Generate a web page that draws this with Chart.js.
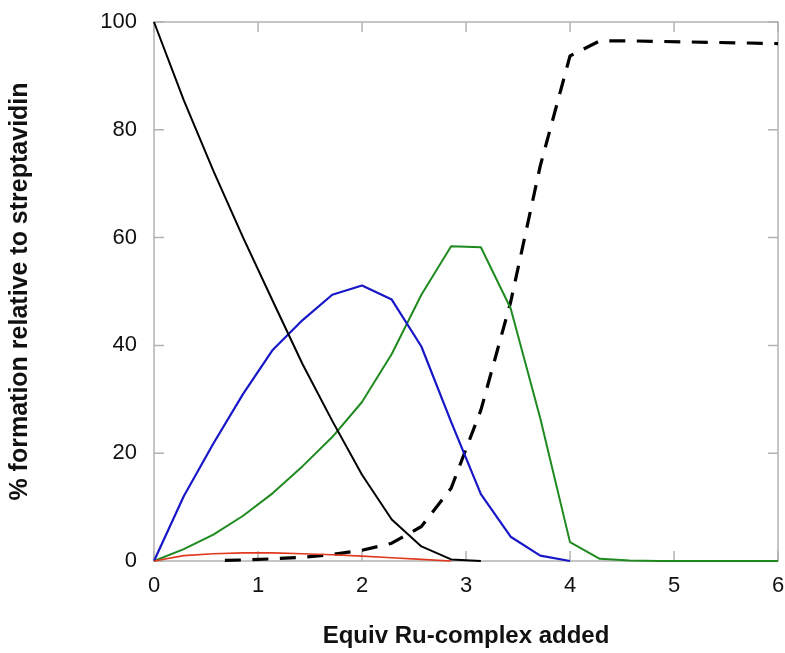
<!DOCTYPE html>
<html>
<head>
<meta charset="utf-8">
<script src="https://cdn.jsdelivr.net/npm/chart.js@4.4.1/dist/chart.umd.min.js"></script>
<style>
  html, body { margin: 0; padding: 0; background: #ffffff; }
  #wrap { width: 785px; height: 653px; position: relative; }
</style>
</head>
<body>
<div id="wrap"><canvas id="c" width="785" height="653"></canvas></div>
<script>
// ---- data ----
const equiv = [0, 0.286, 0.571, 0.857, 1.143, 1.429, 1.714, 2, 2.286, 2.571, 2.857,
               3.143, 3.429, 3.714, 4, 4.286, 4.571, 4.857, 5.143, 5.429, 5.714, 6];
const freeStrep = [100, 85.5, 72.4, 60, 48.2, 36.5, 26, 16, 7.7, 2.7, 0.3,
                   0, null, null, null, null, null, null, null, null, null, null];
const oneBound = [0, 12, 21.8, 31, 39.2, 44.7, 49.4, 51.1, 48.5, 39.8, 25.8,
                  12.4, 4.5, 1.0, 0, null, null, null, null, null, null, null];
const twoBound = [0, 2.2, 4.9, 8.4, 12.6, 17.6, 23, 29.5, 38.4, 49.4, 58.4,
                  58.2, 46.9, 26.5, 3.5, 0.4, 0.1, 0, 0, 0, 0, 0];
const minorBound = [0, 1.0, 1.35, 1.5, 1.5, 1.35, 1.15, 0.9, 0.6, 0.3, 0,
                    null, null, null, null, null, null, null, null, null, null, null];
const fullBound = [null, null, 0.05, 0.2, 0.4, 0.7, 1.2, 2.0, 3.3, 6.4, 13.5,
                   28, 48, 73.3, 93.7, 96.5, 96.5, 96.4, 96.3, 96.2, 96.1, 96.0];
const xTicks = [0, 1, 2, 3, 4, 5, 6];
const yTicks = [0, 20, 40, 60, 80, 100];
const xTitle = 'Equiv Ru-complex added';
const yTitle = '% formation relative to streptavidin';

function pts(vals) {
  const out = [];
  vals.forEach((v, i) => { if (v !== null) out.push({ x: equiv[i], y: v }); });
  return out;
}

const FONT = "'Liberation Sans', Arial, Helvetica, sans-serif";
const FRAME = '#b2b2b2';

const framePlugin = {
  id: 'frameTicks',
  beforeDatasetsDraw(chart) {
    const { ctx, chartArea: a, scales: { x, y } } = chart;
    ctx.save();
    ctx.strokeStyle = FRAME;
    ctx.lineWidth = 1.5;
    ctx.strokeRect(a.left, a.top, a.right - a.left, a.bottom - a.top);
    const L = 10;
    ctx.beginPath();
    xTicks.forEach(v => {
      const px = x.getPixelForValue(v);
      ctx.moveTo(px, a.top); ctx.lineTo(px, a.top + L);
      ctx.moveTo(px, a.bottom); ctx.lineTo(px, a.bottom - L);
    });
    yTicks.forEach(v => {
      const py = y.getPixelForValue(v);
      ctx.moveTo(a.left, py); ctx.lineTo(a.left + L, py);
      ctx.moveTo(a.right, py); ctx.lineTo(a.right - L, py);
    });
    ctx.stroke();
    ctx.restore();
  }
};

const common = { pointRadius: 0, fill: false, tension: 0, clip: false, borderJoinStyle: 'round' };

new Chart(document.getElementById('c'), {
  type: 'line',
  data: {
    datasets: [
      Object.assign({ label: 'minor', data: pts(minorBound), borderColor: '#e2381e', borderWidth: 1.6 }, common),
      Object.assign({ label: 'free', data: pts(freeStrep), borderColor: '#000000', borderWidth: 2 }, common),
      Object.assign({ label: 'one', data: pts(oneBound), borderColor: '#1717c8', borderWidth: 2.2 }, common),
      Object.assign({ label: 'two', data: pts(twoBound), borderColor: '#1f8a1f', borderWidth: 2 }, common),
      Object.assign({ label: 'full', data: pts(fullBound), borderColor: '#000000', borderWidth: 3.2,
        borderDash: [16, 11.5], borderDashOffset: 16 }, common)
    ]
  },
  options: {
    responsive: false,
    animation: false,
    layout: { padding: { left: 0, right: 7, top: 22, bottom: 0 } },
    plugins: { legend: { display: false }, tooltip: { enabled: false } },
    scales: {
      x: {
        type: 'linear', min: 0, max: 6,
        grid: { display: false, drawTicks: false },
        border: { display: false },
        ticks: { stepSize: 1, padding: 12, color: '#111', font: { family: FONT, size: 22 } },
        title: { display: true, text: xTitle, color: '#111', padding: { top: 0, bottom: 2 },
                 font: { family: FONT, size: 24, weight: 'bold' } },
        afterFit(s) { s.height = 92; s.paddingLeft = 0; s.paddingRight = 0; }
      },
      y: {
        type: 'linear', min: 0, max: 100,
        grid: { display: false, drawTicks: false },
        border: { display: false },
        ticks: { stepSize: 20, padding: 17, color: '#111', font: { family: FONT, size: 22 } },
        title: { display: true, text: yTitle, color: '#111', padding: { top: 5, bottom: 0 },
                 font: { family: FONT, size: 25, weight: 'bold' } },
        afterFit(s) { s.width = 154; s.paddingTop = 0; s.paddingBottom = 0; }
      }
    }
  },
  plugins: [framePlugin]
});
</script>
</body>
</html>
